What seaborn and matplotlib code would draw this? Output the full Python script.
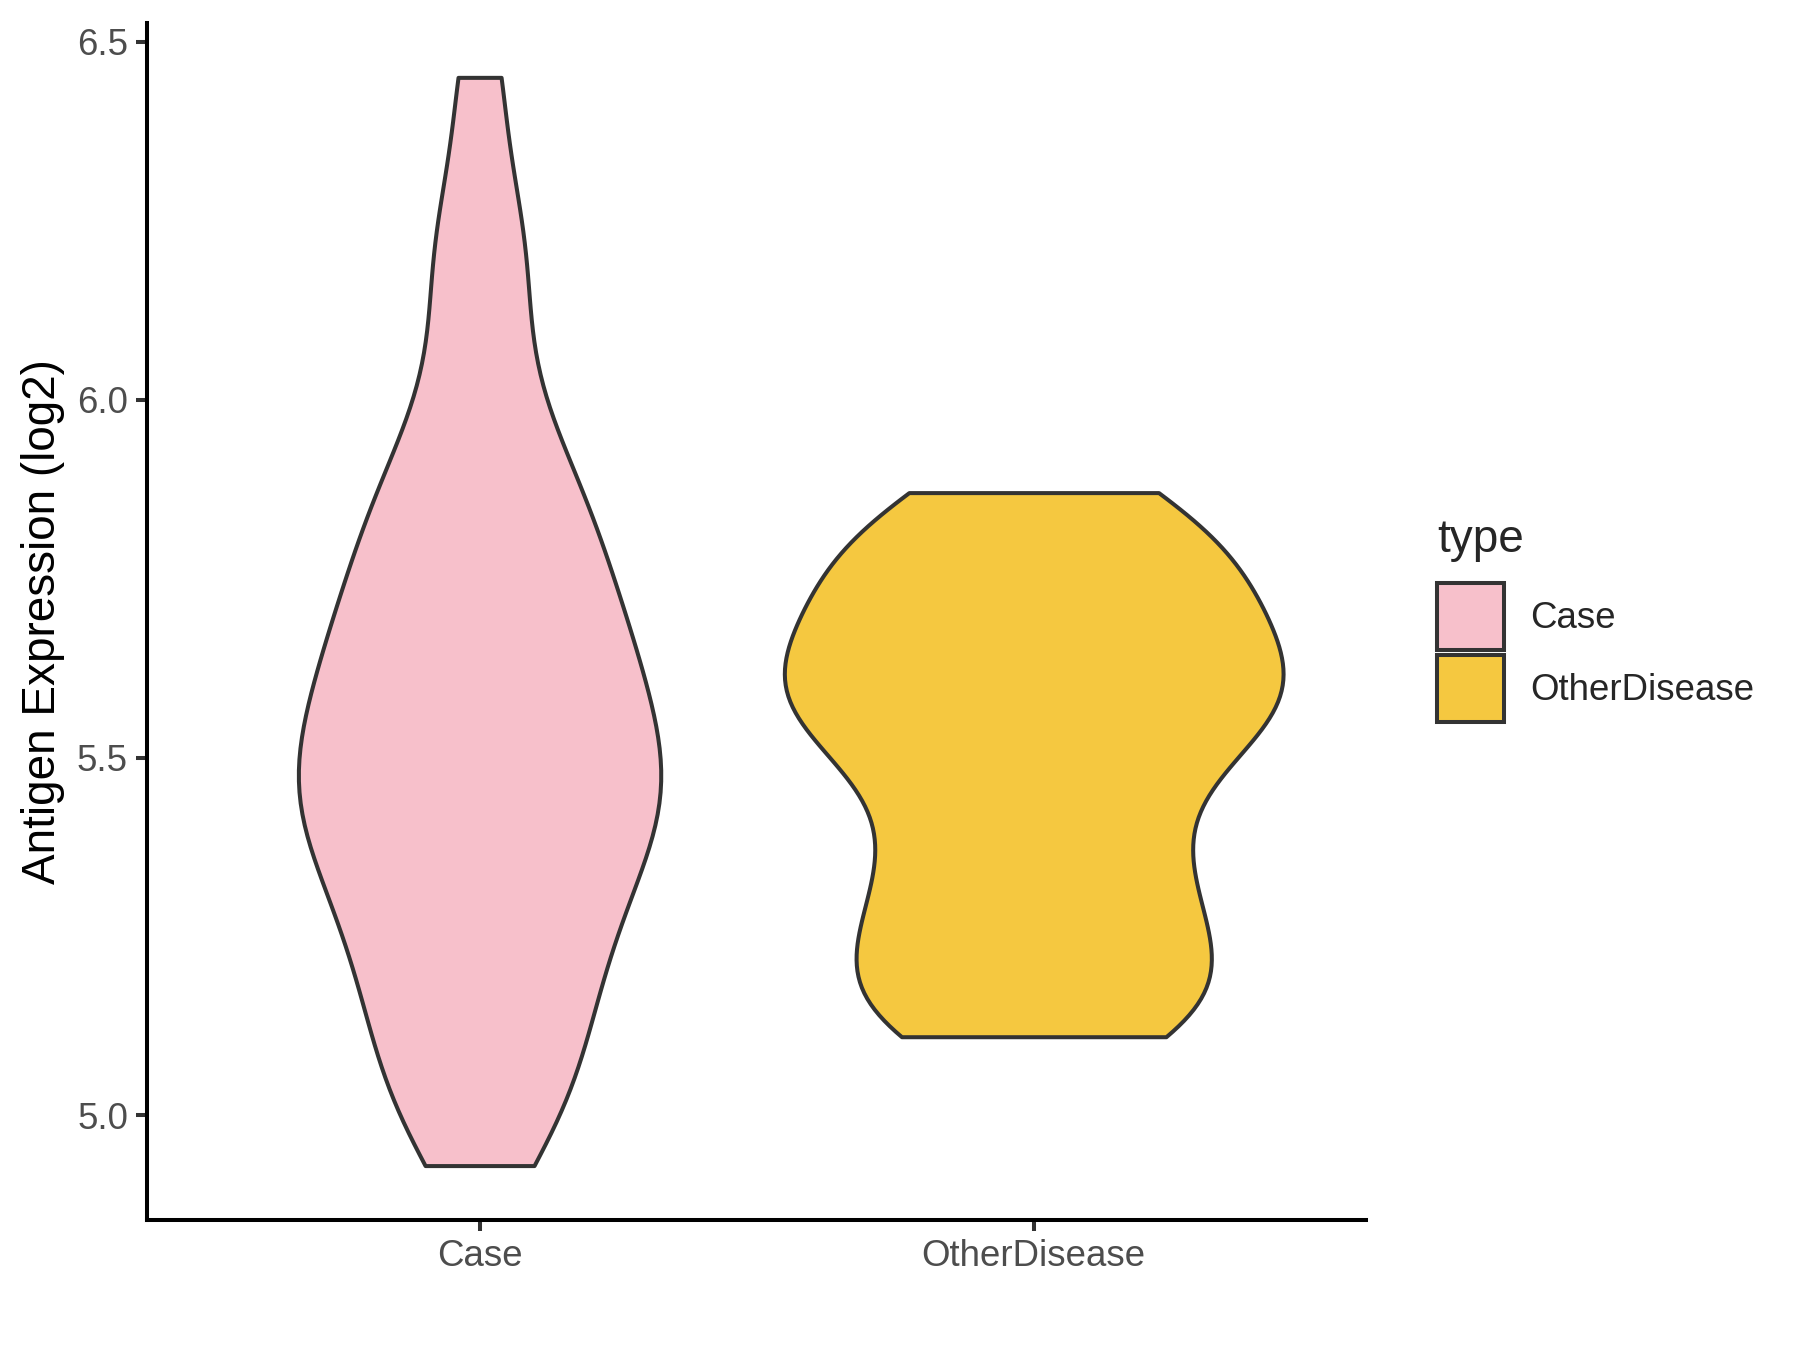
import numpy as np
import pandas as pd
import matplotlib
matplotlib.use("Agg")
import matplotlib.pyplot as plt
from matplotlib.patches import Patch
import seaborn as sns

categories = ["Case", "OtherDisease"]
case_values = [4.93, 4.98, 5.03, 5.07, 5.11, 5.15, 5.18, 5.22, 5.26, 5.28, 5.31, 5.34,
               5.37, 5.39, 5.42, 5.44, 5.45, 5.47, 5.49, 5.52, 5.54, 5.57, 5.59, 5.62,
               5.64, 5.67, 5.69, 5.73, 5.76, 5.79, 5.83, 5.86, 5.90, 5.95, 6.02, 6.12,
               6.20, 6.28, 6.45]
other_values = [5.11, 5.16, 5.22, 5.29, 5.36, 5.45, 5.52, 5.57, 5.60, 5.64, 5.70, 5.75,
                5.80, 5.87]
colors = {"Case": "#F7C0CB", "OtherDisease": "#F5C840"}
y_ticks = [5.0, 5.5, 6.0, 6.5]

df = pd.DataFrame({
    "type": ["Case"] * len(case_values) + ["OtherDisease"] * len(other_values),
    "value": case_values + other_values,
})

sns.set_style("ticks")
plt.rcParams["font.family"] = ["Liberation Sans", "DejaVu Sans"]

fig = plt.figure(figsize=(9, 6.75), dpi=200)
ax = fig.add_axes([0.0817, 0.0963, 0.759 - 0.0817, 0.983 - 0.0963])

sns.violinplot(data=df, x="type", y="value", hue="type", order=categories,
               hue_order=categories, palette=colors, cut=0, density_norm="area",
               common_norm=True, inner=None, linecolor="#333333", linewidth=1.45,
               width=0.9, bw_adjust=0.6, saturation=1, legend=False, ax=ax)

ax.set_xlim(-0.6, 1.6)
ax.set_ylim(4.854, 6.526)
ax.set_yticks(y_ticks)
ax.set_yticklabels([f"{t:.1f}" for t in y_ticks])
ax.set_xlabel("")
ax.set_ylabel("Antigen Expression (log2)", fontsize=16.5, color="black", labelpad=4.3)
ax.tick_params(axis="both", length=4.1, width=1.45, color="#333333",
               labelsize=13.2, labelcolor="#4D4D4D", pad=2.8)
sns.despine(ax=ax)
for s in ["left", "bottom"]:
    ax.spines[s].set_linewidth(1.45)
    ax.spines[s].set_color("black")

handles = [Patch(facecolor=colors[c], edgecolor="#333333", linewidth=1.45, label=c)
           for c in categories]
fig.text(1437 / 1800, 1 - 540 / 1350, "type", fontsize=16.5, va="center", ha="left")
fig.legend(handles=handles, loc="upper left", bbox_to_anchor=(1437 / 1800, 1 - 583 / 1350),
           frameon=False, fontsize=13.2, handlelength=1.83, handleheight=2.44,
           labelspacing=0.14, borderpad=0, borderaxespad=0, handletextpad=0.7)

fig.savefig("out.png", dpi=200)
